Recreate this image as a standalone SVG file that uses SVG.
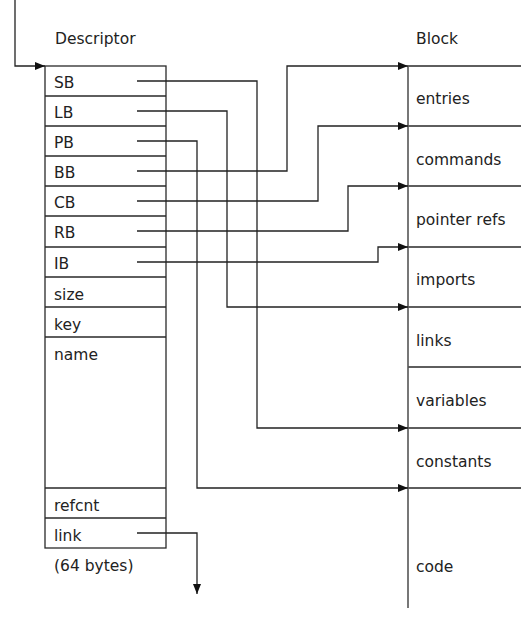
<svg xmlns="http://www.w3.org/2000/svg" width="521" height="638" viewBox="0 0 521 638">
<style>
text{font-family:"DejaVu Sans","Liberation Sans",sans-serif;font-size:15.5px;fill:#222}
.ln{fill:none;stroke:#2a2a2a;stroke-width:1.3}
.cn{fill:none;stroke:#222;stroke-width:1.3;marker-end:url(#ah)}
.bl{stroke:#555;stroke-width:1.6}
</style>
<defs>
<marker id="ah" viewBox="0 0 10 8" refX="10" refY="4" markerWidth="10" markerHeight="8" markerUnits="userSpaceOnUse" orient="auto"><path d="M0,0 L10,4 L0,8 z" fill="#111"/></marker>
</defs>
<g id="descriptor">
<text x="55" y="44">Descriptor</text>
<rect class="ln" x="45" y="66" width="121" height="482"/>
<path class="ln" d="M45,96H166M45,126H166M45,156H166M45,186H166M45,216H166M45,247H166M45,277H166M45,307H166M45,337H166M45,488H166M45,518H166"/>
<text x="54" y="88">SB</text>
<text x="54" y="118">LB</text>
<text x="54" y="148">PB</text>
<text x="54" y="178">BB</text>
<text x="54" y="208">CB</text>
<text x="54" y="238">RB</text>
<text x="54" y="269">IB</text>
<text x="54" y="300">size</text>
<text x="54" y="330">key</text>
<text x="54" y="360">name</text>
<text x="54" y="511">refcnt</text>
<text x="54" y="541">link</text>
<text x="54" y="571">(64 bytes)</text>
</g>
<g id="block">
<text x="416" y="44">Block</text>
<path class="ln" d="M408,66H521M408,126H521M408,186H521M408,247H521M408,307H521M408,367H521M408,428H521M408,488H521"/>
<line class="bl" x1="408" y1="66" x2="408" y2="608"/>
<text x="416" y="104">entries</text>
<text x="416" y="165">commands</text>
<text x="416" y="225">pointer refs</text>
<text x="416" y="285">imports</text>
<text x="416" y="346">links</text>
<text x="416" y="406">variables</text>
<text x="416" y="467">constants</text>
<text x="416" y="572">code</text>
</g>
<g id="connectors">
<path class="cn" d="M15,0V66H45"/>
<path class="cn" d="M137,81H257V428H408"/>
<path class="cn" d="M137,111H227V307H408"/>
<path class="cn" d="M137,141H197V488H408"/>
<path class="cn" d="M137,171H287V66H408"/>
<path class="cn" d="M137,201H318V126H408"/>
<path class="cn" d="M137,231H348V186H408"/>
<path class="cn" d="M137,262H378V247H408"/>
<path class="cn" d="M137,533H197V594"/>
</g>
</svg>
